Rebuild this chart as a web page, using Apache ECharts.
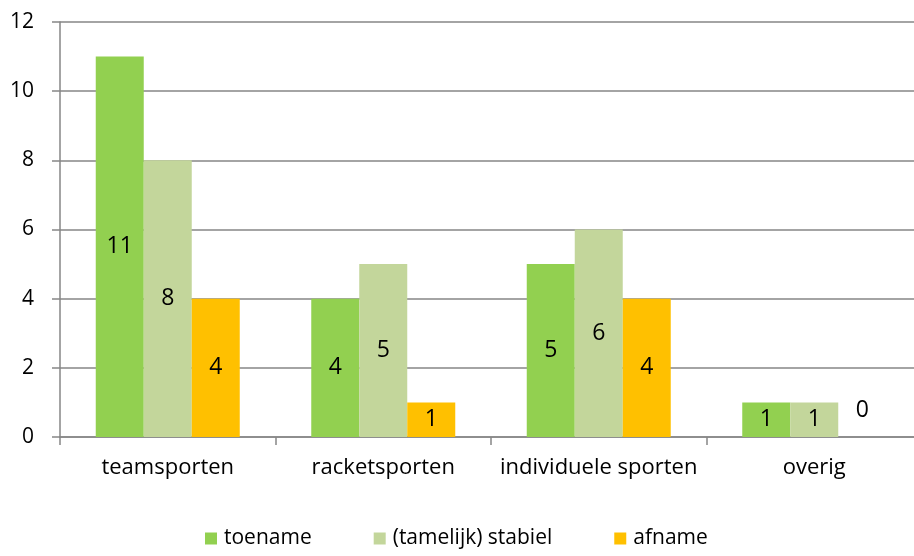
<!DOCTYPE html>
<html>
<head>
<meta charset="utf-8">
<script src="https://cdn.jsdelivr.net/npm/echarts@6/dist/echarts.min.js"></script>
<style>
  html, body { margin: 0; padding: 0; background: #fff; }
  #chart { width: 914px; height: 556px; }
</style>
</head>
<body>
<div id="chart"></div>
<script>
const categories = ['teamsporten', 'racketsporten', 'individuele sporten', 'overig']
const toename = [11, 4, 5, 1]
const stabiel = [8, 5, 6, 1]
const afname = [4, 1, 4, 0]
const yTicks = { min: 0, max: 12, interval: 2 }

const font = 'Open Sans'
const axisGrey = '#868686'

const chart = echarts.init(document.getElementById('chart'))

const labelStyle = {
  show: true,
  position: 'inside',
  color: '#000',
  fontSize: 23,
  fontFamily: font
}

// a zero bar has no height, so its label sits above the axis
const withZeroLabels = values => values.map(v => v === 0
  ? { value: v, label: { position: 'top', offset: [0, -10] } }
  : v)

const makeSeries = (name, values, color) => ({
  name,
  type: 'bar',
  data: withZeroLabels(values),
  barWidth: 48,
  barGap: '0%',
  itemStyle: { color },
  label: labelStyle
})

chart.setOption({
  animation: false,
  textStyle: { fontFamily: font },
  grid: { left: 60, right: -8, top: 22, bottom: 119, outerBoundsMode: 'none' },
  legend: {
    bottom: 2,
    left: 200,
    itemWidth: 12,
    itemHeight: 12,
    itemGap: 62,
    icon: 'rect',
    textStyle: { fontSize: 21, color: '#000', fontFamily: font, padding: [0, 0, 0, 2] },
    data: ['toename', '(tamelijk) stabiel', 'afname']
  },
  xAxis: {
    type: 'category',
    data: categories,
    axisLine: { lineStyle: { color: axisGrey, width: 1.5 } },
    axisTick: { show: true, interval: 0, length: 8, lineStyle: { color: axisGrey, width: 1.5 } },
    axisLabel: { interval: 0, fontSize: 22, color: '#000', margin: 20, fontFamily: font }
  },
  yAxis: {
    type: 'value',
    min: yTicks.min,
    max: yTicks.max,
    interval: yTicks.interval,
    axisLine: { show: true, lineStyle: { color: axisGrey, width: 1.5 } },
    axisTick: { show: true, length: 8, lineStyle: { color: axisGrey, width: 1.5 } },
    splitLine: { lineStyle: { color: axisGrey, width: 1.5 } },
    axisLabel: { fontSize: 21, color: '#000', margin: 26, fontFamily: font }
  },
  series: [
    makeSeries('toename', toename, '#92D050'),
    makeSeries('(tamelijk) stabiel', stabiel, '#C3D69B'),
    makeSeries('afname', afname, '#FFC000')
  ]
})
</script>
</body>
</html>
